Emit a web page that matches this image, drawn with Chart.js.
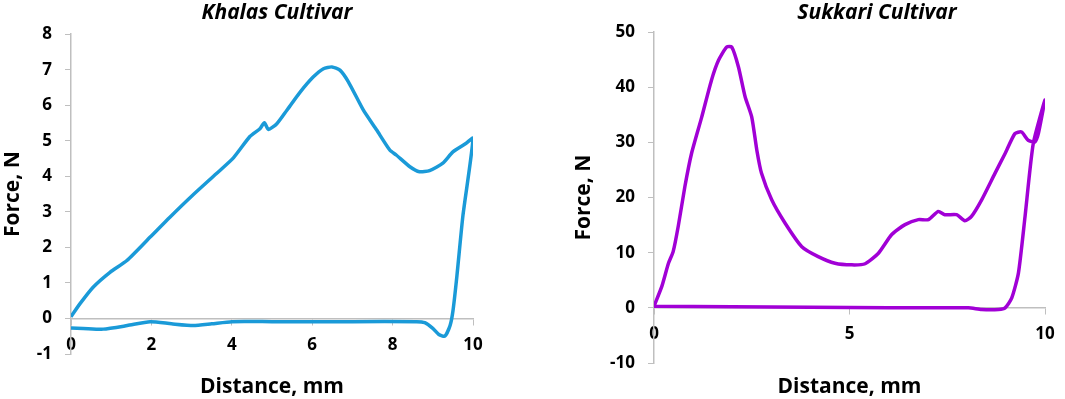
<!DOCTYPE html>
<html>
<head>
<meta charset="utf-8">
<script src="https://cdn.jsdelivr.net/npm/chart.js@4.4.1/dist/chart.umd.min.js"></script>
<style>
  html, body { margin: 0; padding: 0; background: #fff; overflow: hidden; }
  body { width: 1065px; height: 399px; position: relative; }
  .box { position: absolute; top: 0; height: 399px; }
</style>
</head>
<body>
<div class="box" style="left:0;width:554px"><canvas id="khalasChart"></canvas></div>
<div class="box" style="left:571px;width:612px"><canvas id="sukkariChart"></canvas></div>
<script>
// Khalas cultivar: loading then unloading path (distance mm, force N)
const khalasDistance = [0, 0.22, 0.55, 0.97, 1.39, 1.97, 2.46, 3.0, 3.62, 4.04, 4.45, 4.70, 4.81, 4.91,
  5.12, 5.37, 5.70, 6.03, 6.28, 6.49, 6.69, 6.90, 7.27, 7.60, 7.93, 8.09, 8.43, 8.67, 8.92, 9.25, 9.50,
  9.83, 10.0, 9.75, 9.60, 9.50, 9.43, 9.30, 9.15, 9.00, 8.80, 8.60, 7.0, 6.0, 5.0, 4.0, 3.5, 3.04, 2.5,
  1.97, 1.4, 0.8, 0.3, 0];
const khalasForce = [0.05, 0.41, 0.88, 1.30, 1.63, 2.29, 2.85, 3.44, 4.08, 4.52, 5.12, 5.34, 5.51, 5.32,
  5.48, 5.86, 6.37, 6.80, 7.03, 7.08, 6.99, 6.66, 5.87, 5.31, 4.74, 4.60, 4.27, 4.13, 4.16, 4.37, 4.69,
  4.93, 5.07, 2.90, 1.20, 0.20, -0.20, -0.50, -0.45, -0.28, -0.12, -0.09, -0.09, -0.09, -0.09, -0.09,
  -0.15, -0.20, -0.15, -0.09, -0.20, -0.30, -0.28, -0.27];

// Sukkari cultivar
const sukkariDistance = [0, 0.20, 0.37, 0.49, 0.62, 0.79, 0.96, 1.22, 1.47, 1.65, 1.86, 1.99, 2.16, 2.33,
  2.50, 2.63, 2.75, 3.01, 3.35, 3.78, 4.20, 4.63, 5.06, 5.40, 5.74, 6.08, 6.42, 6.76, 7.02, 7.27, 7.44,
  7.74, 7.95, 8.12, 8.38, 8.72, 8.98, 9.23, 9.40, 9.57, 9.74, 9.83, 10.0, 9.70, 9.49, 9.32, 9.15, 8.98,
  8.81, 8.38, 8.04, 6.0, 4.0, 2.0, 0];
const sukkariForce = [0.3, 3.9, 8.1, 10.2, 14.8, 22.0, 28.0, 34.6, 41.3, 44.9, 47.3, 47.3, 43.7, 38.3,
  34.6, 28.6, 24.4, 19.6, 15.4, 11.1, 9.3, 8.1, 7.8, 8.0, 9.9, 13.3, 15.1, 16.0, 16.0, 17.5, 16.9,
  16.9, 15.8, 16.6, 19.6, 24.4, 28.0, 31.6, 31.9, 30.4, 30.1, 31.6, 37.7, 29.8, 16.6, 6.3, 1.8, 0,
  -0.3, -0.3, 0, 0, 0.1, 0.2, 0.3];

const khalasXTicks = [0, 10, 2];
const khalasYTicks = [-1, 8, 1];
const sukkariXTicks = [0, 10, 5];
const sukkariYTicks = [-10, 50, 10];

const FONT = '"Open Sans", sans-serif';
const AXIS_GRAY = '#bfbfbf';

function toPoints(xs, ys) {
  return xs.map((x, i) => ({ x, y: ys[i] }));
}

function makeChart(id, opts) {
  const ctx = document.getElementById(id).getContext('2d');
  return new Chart(ctx, {
    type: 'scatter',
    data: {
      datasets: [{
        data: toPoints(opts.xs, opts.ys),
        showLine: true,
        borderColor: opts.color,
        borderWidth: 3.5,
        pointRadius: 0,
        tension: 0.2,
        fill: false
      }]
    },
    options: {
      responsive: true,
      maintainAspectRatio: false,
      animation: false,
      layout: { padding: { left: 0, right: 0, top: 0, bottom: opts.bottomPad } },
      plugins: {
        legend: { display: false },
        tooltip: { enabled: false },
        title: {
          display: true,
          text: opts.title,
          color: '#000',
          font: { family: FONT, size: 21, weight: 'bold', style: 'italic' },
          padding: opts.titlePad
        }
      },
      scales: {
        x: {
          type: 'linear',
          position: { y: 0 },
          min: opts.xTicks[0],
          max: opts.xTicks[1],
          ticks: {
            stepSize: opts.xTicks[2],
            color: '#000',
            padding: 10,
            maxRotation: 0,
            font: { family: FONT, size: 17, weight: 'bold' }
          },
          grid: { drawOnChartArea: false, color: AXIS_GRAY, tickLength: 6 },
          border: { color: AXIS_GRAY, width: 1.5 },
          title: {
            display: true,
            text: 'Distance, mm',
            color: '#000',
            font: { family: FONT, size: 21, weight: 'bold' },
            padding: { top: opts.xTitleTop, bottom: 0 }
          }
        },
        y: {
          type: 'linear',
          position: 'left',
          min: opts.yTicks[0],
          max: opts.yTicks[1],
          afterFit: (scale) => { scale.width = opts.yAxisWidth; },
          ticks: {
            stepSize: opts.yTicks[2],
            color: '#000',
            padding: 13,
            font: { family: FONT, size: 17, weight: 'bold' }
          },
          grid: { drawOnChartArea: false, color: AXIS_GRAY, tickLength: 6 },
          border: { color: AXIS_GRAY, width: 1.5 },
          title: {
            display: true,
            text: 'Force, N',
            color: '#000',
            font: { family: FONT, size: 21, weight: 'bold' },
            padding: { top: 0, bottom: 0 }
          }
        },
        // empty right-hand spacer so the title centres where the original has it
        spacer: {
          type: 'linear',
          position: 'right',
          afterFit: (scale) => { scale.width = opts.rightSpace; },
          ticks: { display: false },
          grid: { display: false },
          border: { display: false }
        }
      }
    }
  });
}

makeChart('khalasChart', {
  xs: khalasDistance, ys: khalasForce, color: '#1a9ad8',
  title: 'Khalas Cultivar',
  xTicks: khalasXTicks, yTicks: khalasYTicks,
  bottomPad: 45, rightSpace: 81,
  titlePad: { top: 0, bottom: 9 },
  xTitleTop: 10, yAxisWidth: 71
});

makeChart('sukkariChart', {
  xs: sukkariDistance, ys: sukkariForce, color: '#a100d6',
  title: 'Sukkari Cultivar',
  xTicks: sukkariXTicks, yTicks: sukkariYTicks,
  bottomPad: 36, rightSpace: 138,
  titlePad: { top: 0, bottom: 7 },
  xTitleTop: 20, yAxisWidth: 83
});
</script>
</body>
</html>
